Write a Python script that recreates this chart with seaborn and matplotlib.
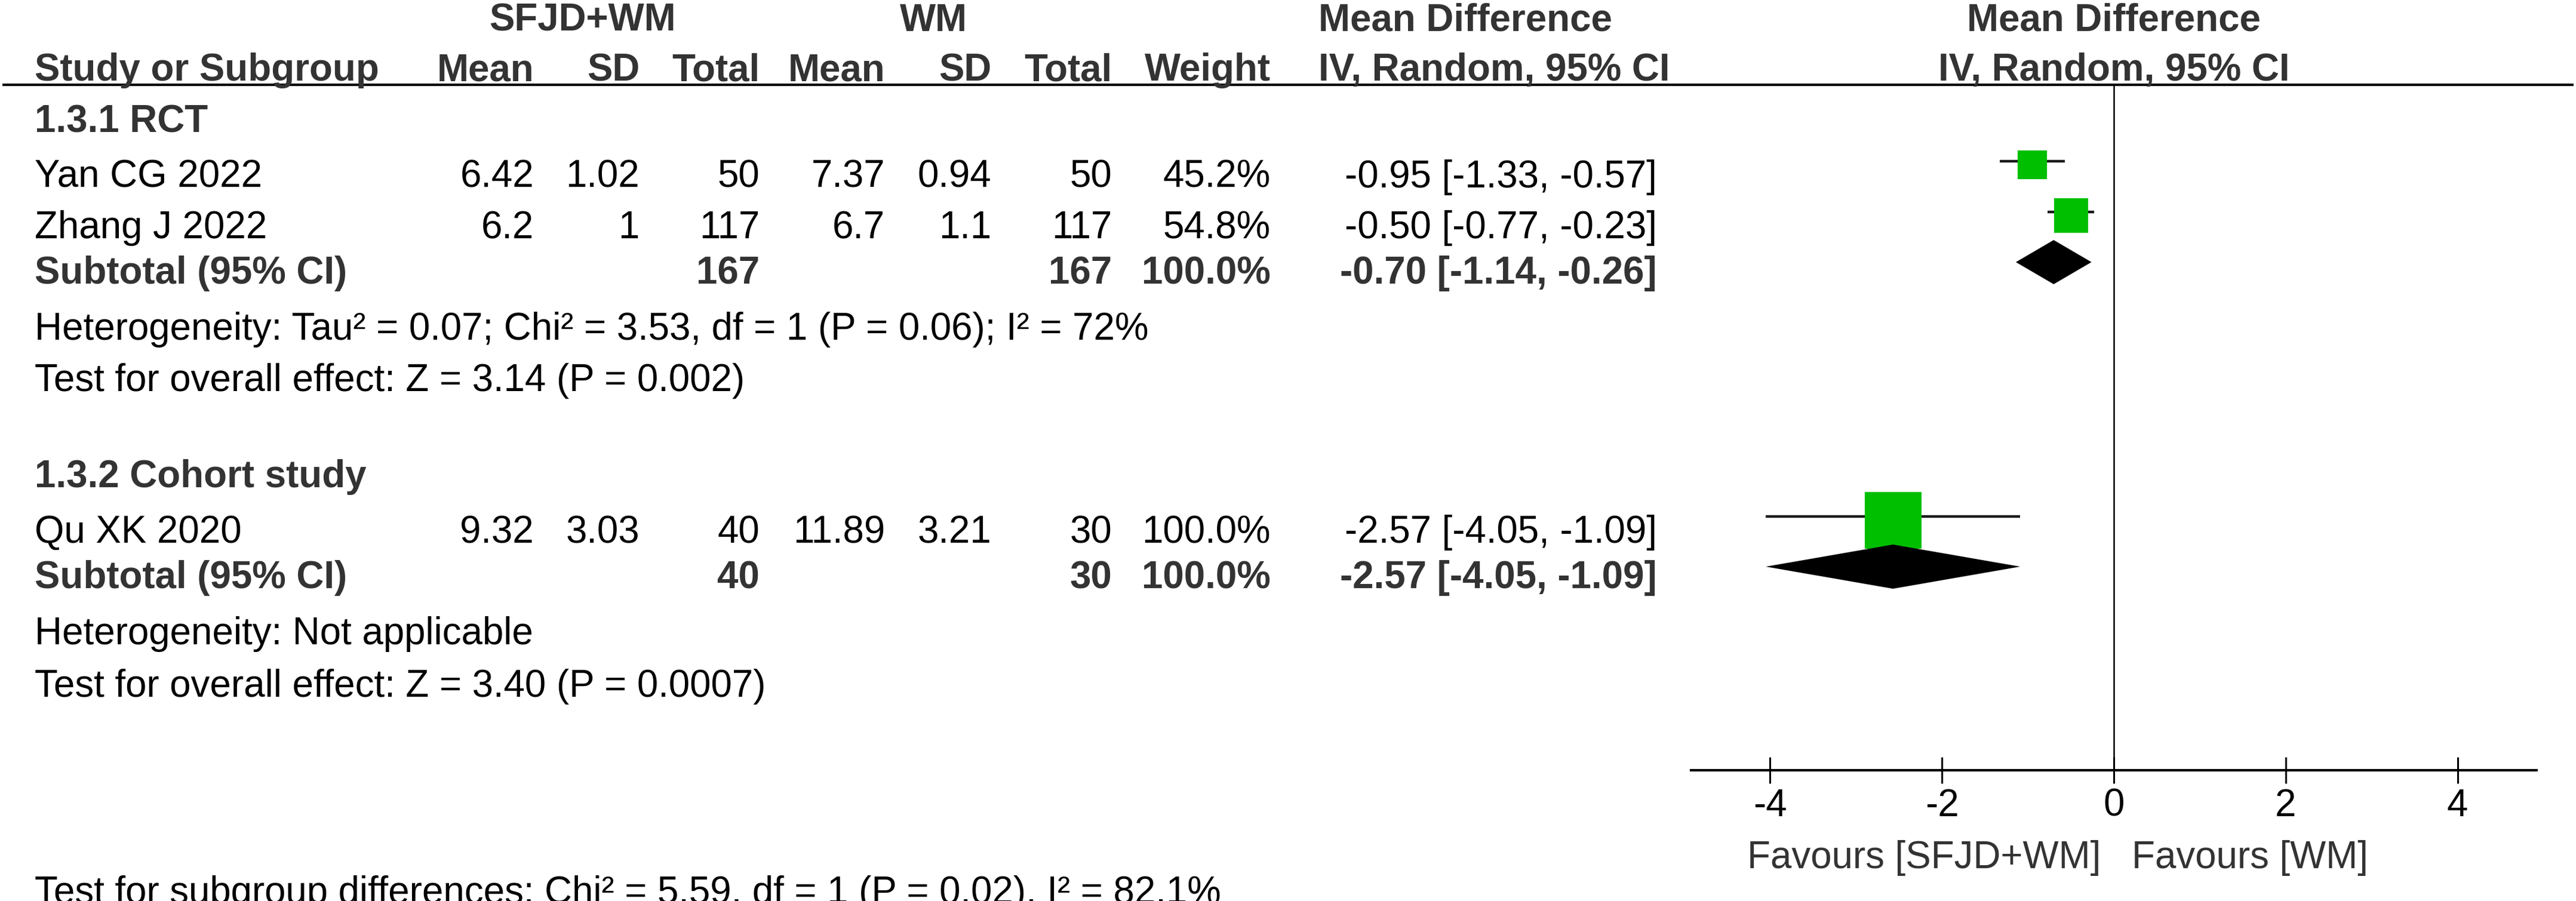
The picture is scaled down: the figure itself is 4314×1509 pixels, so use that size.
import numpy as np
import pandas as pd
import matplotlib
matplotlib.use("Agg")
import matplotlib.pyplot as plt
import seaborn as sns

# ---------------- data ----------------
studies = ["Yan CG 2022", "Zhang J 2022", "Qu XK 2020"]
study_group = [0, 0, 1]
exp_mean = [6.42, 6.2, 9.32]
exp_sd = [1.02, 1, 3.03]
exp_n = [50, 117, 40]
ctl_mean = [7.37, 6.7, 11.89]
ctl_sd = [0.94, 1.1, 3.21]
ctl_n = [50, 117, 30]
weight = [45.2, 54.8, 100.0]
md = [-0.95, -0.50, -2.57]
md_lo = [-1.33, -0.77, -4.05]
md_hi = [-0.57, -0.23, -1.09]

subgroups = ["1.3.1 RCT", "1.3.2 Cohort study"]
sub_exp_n = [167, 40]
sub_ctl_n = [167, 30]
sub_weight = [100.0, 100.0]
sub_md = [-0.70, -2.57]
sub_lo = [-1.14, -4.05]
sub_hi = [-0.26, -1.09]
sub_het = ["Heterogeneity: Tau\u00b2 = 0.07; Chi\u00b2 = 3.53, df = 1 (P = 0.06); I\u00b2 = 72%",
           "Heterogeneity: Not applicable"]
sub_effect = ["Test for overall effect: Z = 3.14 (P = 0.002)",
              "Test for overall effect: Z = 3.40 (P = 0.0007)"]
subgroup_diff = "Test for subgroup differences: Chi\u00b2 = 5.59, df = 1 (P = 0.02), I\u00b2 = 82.1%"

group1_label = "SFJD+WM"
group2_label = "WM"
col_headers = ["Mean", "SD", "Total", "Mean", "SD", "Total", "Weight"]
effect_header = ["Mean Difference", "IV, Random, 95% CI"]
xticks = [-4, -2, 0, 2, 4]
favours = ["Favours [SFJD+WM]", "Favours [WM]"]

# ---------------- layout (pixels) ----------------
W, H, DPI = 4314, 1509, 100
FS = 45.8
BOLD_C = "#333333"
GREEN = "#00BF00"

sns.set_style("white")
plt.rcParams["font.family"] = ["Liberation Sans", "DejaVu Sans"]

fig = plt.figure(figsize=(W / DPI, H / DPI), dpi=DPI)
fig.patch.set_facecolor("white")

tax = fig.add_axes([0, 0, 1, 1])
tax.set_xlim(0, W)
tax.set_ylim(H, 0)
tax.axis("off")

X_NAME = 58
X_COLS = [894, 1071, 1272, 1482, 1660, 1862, 2128]
X_MDTXT = 2775
X_MDHDR = 2208
X_G1 = 975
X_G2 = 1563

Y_HDR1, Y_HDR2, Y_LINE = 52, 135, 142
Y_SUBHDR = [221, 816]
Y_STUDY = [314, 399, 909]
Y_SUBTOT = [475, 985]
Y_HET = [569, 1079]
Y_EFF = [655, 1167]
Y_BOTTOM = 1513

def t(x, y, s, ha="left", bold=False, color=None):
    tax.text(x, y, s, ha=ha, va="baseline", fontsize=FS,
             fontweight="bold" if bold else "normal",
             color=color if color else (BOLD_C if bold else "black"))

# headers
t(X_G1, Y_HDR1, group1_label, ha="center", bold=True)
t(X_G2, Y_HDR1, group2_label, ha="center", bold=True)
t(X_MDHDR, Y_HDR1, effect_header[0], bold=True)
t(X_NAME, Y_HDR2, "Study or Subgroup", bold=True)
for x, h in zip(X_COLS, col_headers):
    t(x, Y_HDR2, h, ha="right", bold=True)
t(X_MDHDR, Y_HDR2, effect_header[1], bold=True)
tax.hlines(Y_LINE, 4, 4310, color="black", lw=3.0)

# study rows
for i, name in enumerate(studies):
    y = Y_STUDY[i]
    t(X_NAME, y, name)
    vals = [f"{exp_mean[i]:g}", f"{exp_sd[i]:g}", f"{exp_n[i]}",
            f"{ctl_mean[i]:g}", f"{ctl_sd[i]:g}", f"{ctl_n[i]}",
            f"{weight[i]:.1f}%"]
    for x, v in zip(X_COLS, vals):
        t(x, y, v, ha="right")
    t(X_MDTXT, y, f"{md[i]:.2f} [{md_lo[i]:.2f}, {md_hi[i]:.2f}]", ha="right")

# subgroup rows
for g, name in enumerate(subgroups):
    t(X_NAME, Y_SUBHDR[g], name, bold=True)
    y = Y_SUBTOT[g]
    t(X_NAME, y, "Subtotal (95% CI)", bold=True)
    t(X_COLS[2], y, f"{sub_exp_n[g]}", ha="right", bold=True)
    t(X_COLS[5], y, f"{sub_ctl_n[g]}", ha="right", bold=True)
    t(X_COLS[6], y, f"{sub_weight[g]:.1f}%", ha="right", bold=True)
    t(X_MDTXT, y, f"{sub_md[g]:.2f} [{sub_lo[g]:.2f}, {sub_hi[g]:.2f}]", ha="right", bold=True)
    t(X_NAME, Y_HET[g], sub_het[g])
    t(X_NAME, Y_EFF[g], sub_effect[g])

t(X_NAME, Y_BOTTOM, subgroup_diff)

# ---------------- forest panel ----------------
AX_L, AX_R = 2832, 4248
AX_TOP, AX_BOT = Y_LINE, 1290
XLIM = 4.92
ax = fig.add_axes([AX_L / W, 1 - AX_BOT / H, (AX_R - AX_L) / W, (AX_BOT - AX_TOP) / H])
ax.set_facecolor("none")
ax.set_xlim(-XLIM, XLIM)
ax.set_ylim(AX_BOT, AX_TOP)

df = pd.DataFrame({"study": studies, "md": md, "lo": md_lo, "hi": md_hi, "w": weight})
df["yc"] = np.array(Y_STUDY) - 38
df["yl"] = np.array(Y_STUDY) - 44
side_px = 11 + 0.84 * df["w"].to_numpy()
df["s"] = (side_px * 72 / DPI) ** 2

ax.axvline(0, color="black", lw=1.8, zorder=1)
ax.hlines(df["yl"], df["lo"], df["hi"], color="#1a1a1a", lw=3.2, zorder=2)
sns.scatterplot(data=df, x="md", y="yc", marker="s", color=GREEN, s=df["s"].to_numpy(),
                linewidth=0, legend=False, ax=ax, zorder=3)

for g in range(len(subgroups)):
    yc = Y_SUBTOT[g] - 36
    hh = 37
    ax.fill([sub_lo[g], sub_md[g], sub_hi[g], sub_md[g]],
            [yc, yc - hh, yc, yc + hh], color="black", lw=0, zorder=4)

for sp in ["left", "right", "top"]:
    ax.spines[sp].set_visible(False)
ax.spines["bottom"].set_linewidth(3.0)
ax.spines["bottom"].set_color("black")
ax.set_xticks(xticks)
ax.set_xticklabels([f"{v:g}" for v in xticks])
ax.set_yticks([])
ax.tick_params(axis="x", which="major", bottom=True, direction="inout", length=31, width=2.2,
               labelsize=FS, pad=6, colors="black", labelcolor="black")
ax.set_xlabel("")
ax.set_ylabel("")

ax.text(-0.15, 1454, favours[0], ha="right", va="baseline", fontsize=FS, color=BOLD_C)
ax.text(0.21, 1454, favours[1], ha="left", va="baseline", fontsize=FS, color=BOLD_C)
ax.text(0, Y_HDR1, effect_header[0], ha="center", va="baseline", fontsize=FS,
        fontweight="bold", color=BOLD_C, clip_on=False)
ax.text(0, Y_HDR2, effect_header[1], ha="center", va="baseline", fontsize=FS,
        fontweight="bold", color=BOLD_C, clip_on=False)

fig.savefig("out.png", dpi=DPI, facecolor="white")
